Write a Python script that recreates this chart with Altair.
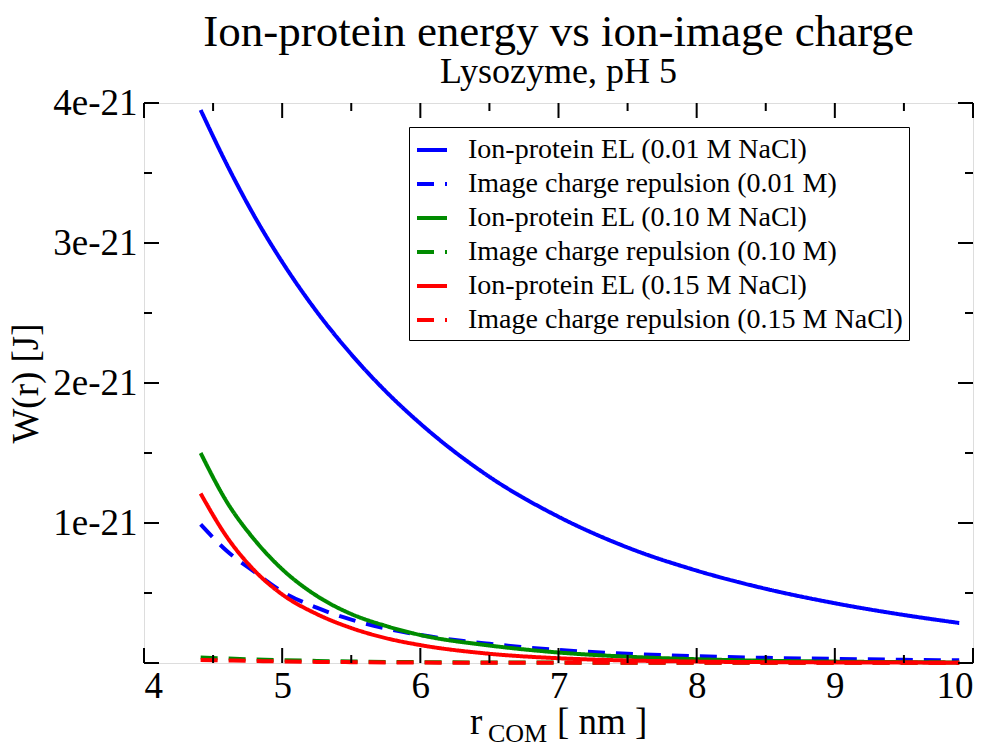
import altair as alt
import pandas as pd

# ---- data (W in units of 1e-21 J) ----
r_nm = [4.41, 4.6, 4.8, 5.0, 5.25, 5.5, 5.75, 6.0, 6.5, 7.0, 7.5, 8.0, 8.5, 9.0, 9.5, 9.9]
el_001 = [3.95, 3.56, 3.19, 2.865, 2.51, 2.205, 1.94, 1.71, 1.33, 1.045, 0.825, 0.66, 0.53, 0.427, 0.343, 0.286]
img_001 = [0.99, 0.80, 0.65, 0.51, 0.395, 0.31, 0.247, 0.20, 0.137, 0.093, 0.066, 0.048, 0.037, 0.029, 0.023, 0.019]
el_010 = [1.50, 1.15, 0.88, 0.67, 0.48, 0.35, 0.265, 0.20, 0.125, 0.075, 0.045, 0.027, 0.016, 0.010, 0.006, 0.004]
img_010 = [0.040, 0.032, 0.025, 0.020, 0.015, 0.011, 0.008, 0.006, 0.004, 0.003, 0.002, 0.0015, 0.001, 0.001, 0.001, 0.001]
el_015 = [1.21, 0.90, 0.66, 0.49, 0.35, 0.25, 0.178, 0.128, 0.066, 0.034, 0.018, 0.010, 0.006, 0.004, 0.003, 0.002]
img_015 = [0.022, 0.018, 0.014, 0.011, 0.008, 0.006, 0.004, 0.003, 0.002, 0.0015, 0.001, 0.001, 0.001, 0.001, 0.001, 0.001]

series_names = [
    "Ion-protein EL (0.01 M NaCl)",
    "Image charge repulsion (0.01 M)",
    "Ion-protein EL (0.10 M NaCl)",
    "Image charge repulsion (0.10 M)",
    "Ion-protein EL (0.15 M NaCl)",
    "Image charge repulsion (0.15 M NaCl)",
]
series_values = [el_001, img_001, el_010, img_010, el_015, img_015]
series_colors = ["#0000ff", "#0000ff", "#008b00", "#008b00", "#ff0000", "#ff0000"]
series_dash = [[1, 0], [17, 11], [1, 0], [17, 11], [1, 0], [17, 11]]

x_major = [4, 5, 6, 7, 8, 9, 10]
x_minor = [4.5, 5.5, 6.5, 7.5, 8.5, 9.5]
y_major = [0, 1, 2, 3, 4]
y_minor = [0.5, 1.5, 2.5, 3.5]

title_text = "Ion-protein energy vs ion-image charge"
subtitle_text = "Lysozyme, pH 5"
y_title = "W(r) [J]"
x_title_parts = ["r", "COM", "[ nm ]"]

rows = []
for name, vals in zip(series_names, series_values):
    for r, w in zip(r_nm, vals):
        rows.append({"series": name, "r": r, "W": w})
df = pd.DataFrame(rows)

FONT = "Liberation Serif"
W, H = 829, 560
xs = alt.Scale(domain=[4, 10], nice=False, zero=False)
ys = alt.Scale(domain=[0, 4], nice=False, zero=False)

x_axis = alt.Axis(values=x_major, format="d", labelFont=FONT, labelFontSize=37,
                  labelColor="black", ticks=False, tickSize=0, domain=False,
                  grid=False, labelPadding=5, title=None)
y_axis = alt.Axis(values=y_major, labelExpr="datum.value == 0 ? '' : datum.value + 'e-21'",
                  labelFont=FONT, labelFontSize=37, labelColor="black",
                  ticks=False, tickSize=0, domain=False, grid=False, labelPadding=7,
                  title=y_title, titleFont=FONT, titleFontSize=37, titleFontWeight="normal",
                  titleColor="black", titlePadding=7)

legend = alt.Legend(
    orient="none", legendX=265, legendY=24, title=None,
    labelFont=FONT, labelFontSize=28, labelColor="black", labelLimit=0,
    symbolType="stroke", symbolSize=900, symbolStrokeWidth=4,
    strokeColor="black", padding=6, rowPadding=3, labelOffset=19,
)

lines = alt.Chart(df).mark_line(strokeWidth=4, interpolate="monotone").encode(
    x=alt.X("r:Q", scale=xs, axis=x_axis),
    y=alt.Y("W:Q", scale=ys, axis=y_axis),
    color=alt.Color("series:N", scale=alt.Scale(domain=series_names, range=series_colors), legend=legend),
    strokeDash=alt.StrokeDash("series:N", scale=alt.Scale(domain=series_names, range=series_dash), legend=legend),
)

def tick_layer(vals, orient, length):
    if orient in ("bottom", "top"):
        d = pd.DataFrame({"r": vals})
        base = alt.Chart(d).mark_rule(color="black", strokeWidth=2)
        xe = alt.X("r:Q", scale=xs, axis=x_axis)
        if orient == "bottom":
            return base.encode(x=xe, y=alt.value(H), y2=alt.value(H - length))
        return base.encode(x=xe, y=alt.value(0), y2=alt.value(length))
    d = pd.DataFrame({"W": vals})
    base = alt.Chart(d).mark_rule(color="black", strokeWidth=2)
    ye = alt.Y("W:Q", scale=ys, axis=y_axis)
    if orient == "left":
        return base.encode(y=ye, x=alt.value(0), x2=alt.value(length))
    return base.encode(y=ye, x=alt.value(W), x2=alt.value(W - length))

ticks = []
for o in ["bottom", "top"]:
    ticks.append(tick_layer(x_major, o, 15))
    ticks.append(tick_layer(x_minor, o, 8))
for o in ["left", "right"]:
    ticks.append(tick_layer(y_major, o, 15))
    ticks.append(tick_layer(y_minor, o, 8))

tdf = pd.DataFrame({"t": x_title_parts})
xt_r = alt.Chart(tdf).transform_filter(alt.datum.t == x_title_parts[0]).mark_text(
    font=FONT, fontSize=37, align="left", baseline="alphabetic", color="black"
).encode(text="t:N", x=alt.value(326), y=alt.value(631))
xt_sub = alt.Chart(tdf).transform_filter(alt.datum.t == x_title_parts[1]).mark_text(
    font=FONT, fontSize=26, align="left", baseline="alphabetic", color="black"
).encode(text="t:N", x=alt.value(344), y=alt.value(639))
xt_unit = alt.Chart(tdf).transform_filter(alt.datum.t == x_title_parts[2]).mark_text(
    font=FONT, fontSize=37, align="left", baseline="alphabetic", color="black"
).encode(text="t:N", x=alt.value(413), y=alt.value(631))

chart = alt.layer(lines, *ticks, xt_r, xt_sub, xt_unit).properties(
    width=W, height=H,
    title=alt.TitleParams(text=title_text, subtitle=subtitle_text, font=FONT, fontSize=45,
                          fontWeight="normal", color="black", subtitleFont=FONT,
                          subtitleFontSize=36, subtitleColor="black", anchor="middle",
                          frame="group", offset=-6, subtitlePadding=0),
    autosize=alt.AutoSizeParams(type="none"),
    padding={"left": 144, "top": 103, "right": 21, "bottom": 84},
).configure_view(stroke="black", strokeWidth=2).configure_legend(strokeWidth=2).configure(
    background="white", font=FONT)

chart.save("out.html", embed_options={"renderer": "svg", "actions": False})
